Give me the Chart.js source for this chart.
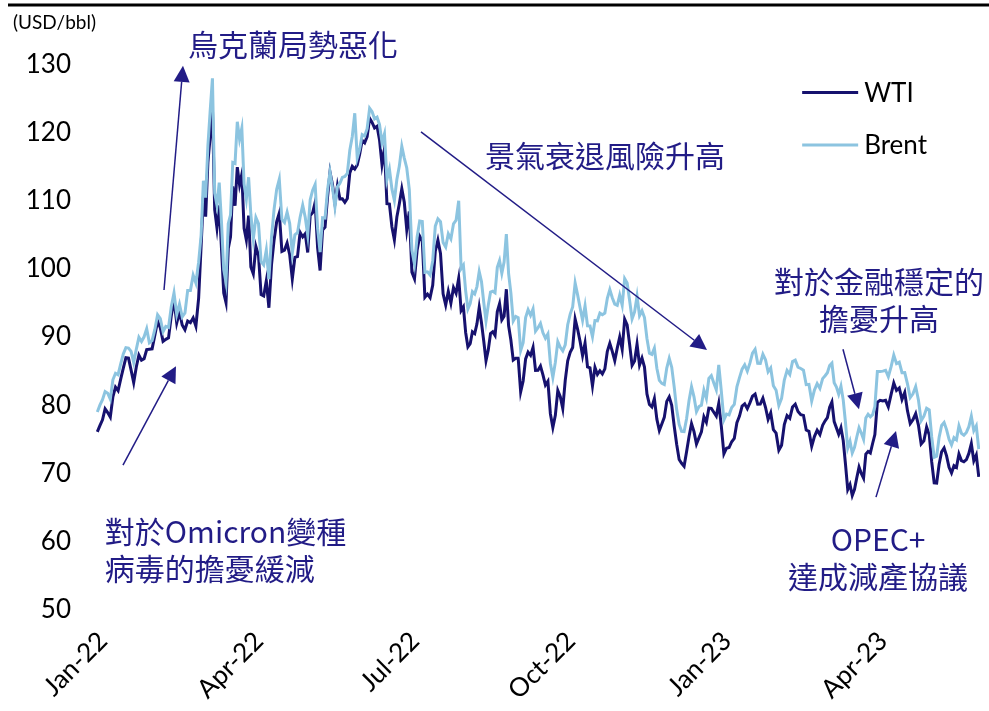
<!DOCTYPE html>
<html>
<head>
<meta charset="utf-8">
<script src="https://cdn.jsdelivr.net/npm/chart.js@4"></script>
<style>
  html, body { margin: 0; padding: 0; background: #fff; }
  #wrap { width: 989px; height: 711px; }
</style>
</head>
<body>
<div id="wrap"><canvas id="oil" width="989" height="711"></canvas></div>
<script>
// Daily closes (USD/bbl), one row per month, Jan-22 .. May-23
const wti = [
  [76.08, 76.99, 77.85, 79.46, 78.90, 78.23, 81.22, 82.64, 82.12, 83.82, 85.43, 86.96, 86.90, 85.14, 83.31, 85.60, 87.35, 86.61, 86.82, 88.15],
  [88.20, 88.26, 90.27, 92.31, 91.32, 89.36, 89.66, 89.88, 93.10, 95.46, 92.07, 93.66, 91.76, 91.07, 92.35, 92.10, 92.81, 91.59, 95.72],
  [103.41, 110.60, 107.67, 115.68, 119.40, 123.70, 108.70, 106.02, 109.33, 103.01, 96.44, 95.04, 102.98, 104.70, 112.12, 109.27, 114.93, 112.34, 113.90, 105.96, 104.24, 107.82, 100.28],
  [99.27, 103.28, 101.96, 96.23, 96.03, 98.26, 94.29, 100.60, 104.25, 106.95, 108.21, 102.56, 102.75, 103.79, 102.07, 98.54, 101.70, 101.81, 105.36, 104.69],
  [105.17, 102.41, 107.81, 108.26, 109.77, 103.09, 99.76, 105.71, 106.13, 110.49, 114.20, 112.40, 109.59, 112.21, 110.28, 110.29, 109.77, 110.33, 114.09, 115.07, 114.67],
  [115.26, 116.87, 118.87, 118.50, 119.41, 122.11, 121.51, 120.67, 120.93, 118.93, 115.31, 117.59, 109.56, 109.52, 106.19, 104.27, 107.62, 109.57, 111.76, 109.78, 105.76],
  [108.43, 99.50, 98.53, 102.73, 104.79, 104.09, 95.84, 96.30, 95.78, 97.59, 102.60, 104.22, 102.26, 96.35, 94.70, 96.70, 94.98, 97.26, 96.42, 98.62],
  [93.89, 94.42, 90.66, 88.54, 89.01, 90.76, 90.50, 91.93, 94.34, 92.09, 89.41, 86.53, 88.11, 90.50, 90.77, 90.23, 93.74, 94.89, 92.52, 93.06, 97.01, 91.64, 89.55],
  [86.61, 86.87, 86.88, 81.94, 83.54, 86.79, 87.78, 87.31, 88.48, 85.10, 85.11, 85.73, 84.45, 82.94, 83.49, 78.74, 76.71, 78.50, 82.15, 81.23, 79.49],
  [83.63, 86.52, 87.76, 88.45, 92.64, 91.13, 89.35, 87.27, 89.11, 85.61, 85.46, 82.82, 85.55, 84.51, 85.05, 84.58, 85.32, 87.91, 89.08, 87.90, 86.53],
  [88.37, 90.00, 88.17, 92.61, 91.79, 88.91, 85.83, 86.47, 88.96, 85.87, 86.92, 85.59, 81.64, 80.08, 79.73, 80.95, 77.94, 76.28, 77.24, 78.20, 80.55],
  [81.22, 79.98, 76.93, 74.25, 72.01, 71.46, 71.02, 73.17, 75.39, 77.28, 76.11, 74.29, 75.19, 76.09, 78.29, 77.49, 79.56, 79.53, 78.96, 78.40, 80.26],
  [76.93, 72.84, 73.67, 73.77, 74.63, 75.12, 77.41, 78.39, 79.86, 80.18, 79.48, 80.33, 81.31, 81.62, 80.13, 80.15, 81.01, 79.68, 77.90, 78.87],
  [76.41, 75.88, 73.39, 74.11, 77.14, 78.47, 78.06, 79.72, 80.14, 79.06, 78.59, 78.49, 76.34, 76.16, 73.95, 75.39, 76.32, 75.68, 77.05],
  [77.69, 78.16, 79.68, 80.46, 77.58, 76.66, 75.72, 76.68, 74.80, 71.33, 67.61, 68.35, 66.74, 67.64, 69.33, 70.90, 69.96, 69.26, 72.81, 73.20, 72.97, 74.37, 75.67],
  [80.42, 80.71, 80.61, 80.70, 79.74, 81.53, 83.26, 82.16, 82.52, 80.83, 81.86, 79.16, 77.29, 77.87, 78.76, 77.07, 74.30, 74.76, 76.78],
  [75.66, 71.66, 68.60, 68.56, 71.34, 73.16, 73.71, 72.56, 70.87, 70.04, 71.11, 70.86, 72.83, 71.86, 71.69, 71.99, 72.91, 74.34, 71.83, 72.67, 69.46],
];

const brent = [
  [78.98, 80.00, 80.80, 81.99, 81.75, 80.87, 83.72, 84.67, 84.47, 86.06, 87.51, 88.44, 88.38, 87.89, 86.27, 88.20, 89.96, 89.34, 90.03, 91.21],
  [89.16, 89.47, 91.11, 93.27, 92.69, 90.78, 91.55, 91.41, 94.44, 96.48, 93.28, 94.81, 92.97, 93.54, 96.84, 96.84, 99.08, 97.93, 100.99],
  [104.97, 112.93, 110.46, 118.11, 123.21, 127.98, 111.14, 109.33, 112.67, 106.90, 99.91, 98.02, 106.64, 107.93, 115.62, 115.48, 121.60, 119.03, 120.65, 112.48, 110.23, 113.45, 107.91],
  [104.39, 107.53, 106.64, 101.07, 100.58, 102.78, 98.48, 104.64, 108.78, 111.70, 113.16, 107.25, 106.80, 108.33, 106.65, 102.32, 104.99, 105.32, 107.59, 109.34],
  [107.58, 104.97, 110.14, 111.55, 112.39, 105.94, 102.46, 107.51, 107.45, 111.55, 114.24, 111.93, 109.11, 112.04, 112.55, 113.42, 113.56, 114.03, 117.40, 119.43, 122.84],
  [116.29, 117.61, 119.72, 119.51, 120.57, 123.58, 123.07, 122.01, 122.27, 121.17, 118.51, 119.81, 113.12, 114.65, 111.74, 110.05, 113.12, 115.09, 117.98, 116.26, 114.81],
  [111.63, 102.77, 100.69, 104.65, 107.02, 106.95, 99.49, 99.57, 99.10, 101.16, 106.27, 107.35, 106.92, 103.86, 103.20, 105.15, 104.40, 106.62, 107.14, 110.01],
  [100.03, 100.54, 96.78, 94.12, 94.92, 96.65, 96.31, 97.40, 99.60, 98.15, 95.10, 92.34, 94.65, 96.59, 96.72, 96.48, 100.22, 101.22, 99.34, 100.99, 105.09, 99.31, 96.49],
  [92.36, 93.02, 92.83, 88.00, 89.15, 92.84, 94.00, 93.17, 94.10, 90.84, 91.35, 92.00, 90.62, 89.83, 90.46, 86.15, 84.06, 86.27, 89.32, 88.49, 87.96],
  [88.86, 91.80, 93.37, 94.42, 97.92, 96.19, 94.29, 92.45, 94.57, 91.63, 91.62, 90.03, 92.41, 92.38, 93.50, 93.26, 93.52, 95.69, 96.96, 95.77, 94.83],
  [94.65, 96.16, 94.67, 98.57, 97.92, 95.36, 92.65, 93.67, 95.99, 93.14, 93.86, 92.86, 89.78, 87.62, 87.45, 88.36, 85.41, 83.63, 83.19, 83.03, 85.43],
  [86.88, 85.57, 82.68, 79.35, 77.17, 76.15, 76.10, 77.99, 80.68, 82.70, 81.21, 79.04, 79.80, 79.99, 82.20, 80.98, 83.92, 84.33, 83.26, 82.26, 85.91],
  [82.10, 77.84, 78.69, 78.57, 79.65, 80.10, 82.67, 84.03, 85.28, 85.92, 84.98, 86.16, 87.63, 88.19, 86.13, 86.12, 87.47, 86.66, 84.90, 85.46],
  [82.84, 82.17, 79.94, 80.99, 83.69, 85.09, 84.50, 86.39, 86.61, 85.58, 85.38, 85.14, 83.00, 83.05, 80.60, 82.21, 83.16, 82.45, 83.89],
  [84.31, 84.75, 85.83, 86.18, 83.29, 82.66, 81.59, 82.78, 80.77, 77.45, 73.69, 74.70, 72.97, 73.79, 75.32, 76.69, 75.91, 74.99, 78.12, 78.65, 78.28, 78.60, 79.77],
  [84.93, 84.94, 84.99, 85.12, 84.18, 85.61, 87.33, 86.09, 86.31, 84.76, 84.77, 83.12, 81.10, 81.66, 82.73, 80.77, 77.69, 78.37, 79.54],
  [79.31, 75.32, 72.33, 72.50, 75.30, 77.01, 77.44, 76.41, 74.98, 74.17, 75.23, 74.91, 76.96, 75.86, 75.58, 75.99, 76.84, 78.36, 76.26, 76.95, 73.54],
];

// quarter ticks, in months since Jan-22
const tickMonths = [0, 3, 6, 9, 12, 15];
const tickLabels = ["Jan-22", "Apr-22", "Jul-22", "Oct-22", "Jan-23", "Apr-23"];

const COLORS = {
  wti: "#16116e",
  brent: "#8cc4e0",
  note: "#221c86",
  text: "#000000",
};

const LATIN = "Lato, 'Open Sans', sans-serif";
const CJK = "'Noto Sans CJK TC', 'Noto Sans CJK SC', sans-serif";

// callouts: x in months, y in USD/bbl
const notes = [
  { lines: ["烏克蘭局勢惡化"], at: [1.77, 132.9], align: "left" },
  { lines: ["景氣衰退風險升高"], at: [7.48, 116.7], align: "left" },
  { lines: ["對於金融穩定的", "擔憂升高"], at: [15.06, 98.2], align: "center" },
  { lines: ["OPEC+", "達成減產協議"], at: [15.04, 60.2], align: "center" },
  { lines: ["對於Omicron變種", "病毒的擔憂緩減"], at: [0.17, 61.4], align: "left" },
];

const arrows = [
  { from: [1.308, 96.9], to: [1.673, 129.8] },
  { from: [6.25, 120.1], to: [11.75, 88.1] },
  { from: [14.365, 88.2], to: [14.673, 79.4] },
  { from: [15.0, 66.5], to: [15.385, 76.2] },
  { from: [0.519, 71.2], to: [1.538, 85.7] },
];

// legend rows sit inside the plot, top right
const legendAt = { x: 13.58, y: [125.9, 118.2] };

// spread each month's trading days evenly across that month
function toPoints(byMonth) {
  return byMonth.flatMap((vals, m) =>
    vals.map((v, i) => ({ x: m + (i + 0.5) / vals.length, y: v }))
  );
}

const decorations = {
  id: "decorations",
  afterDraw(chart) {
    const { ctx, scales } = chart;
    const px = (t) => scales.x.getPixelForValue(t);
    const py = (v) => scales.y.getPixelForValue(v);
    ctx.save();

    // heavy rule along the top
    ctx.strokeStyle = "#000";
    ctx.lineWidth = 3;
    ctx.beginPath();
    ctx.moveTo(8, 5);
    ctx.lineTo(chart.width, 5);
    ctx.stroke();

    // unit label
    ctx.fillStyle = COLORS.text;
    ctx.font = `19px ${LATIN}`;
    ctx.textAlign = "left";
    ctx.textBaseline = "middle";
    ctx.fillText("(USD/bbl)", 13, 23);

    // legend
    const legendX = px(legendAt.x);
    chart.data.datasets.forEach((ds, i) => {
      const y = py(legendAt.y[i]);
      ctx.strokeStyle = ds.borderColor;
      ctx.lineWidth = 3;
      ctx.beginPath();
      ctx.moveTo(legendX, y);
      ctx.lineTo(legendX + 56, y);
      ctx.stroke();
      ctx.fillStyle = COLORS.text;
      ctx.font = `26px ${LATIN}`;
      ctx.textBaseline = "middle";
      ctx.fillText(ds.label, legendX + 62, y + 1);
    });

    // arrows
    ctx.strokeStyle = COLORS.note;
    ctx.fillStyle = COLORS.note;
    arrows.forEach((a) => {
      const x0 = px(a.from[0]), y0 = py(a.from[1]);
      const x1 = px(a.to[0]), y1 = py(a.to[1]);
      const ang = Math.atan2(y1 - y0, x1 - x0);
      const len = 16, half = 8;
      const bx = x1 - len * Math.cos(ang), by = y1 - len * Math.sin(ang);
      ctx.lineWidth = 1.5;
      ctx.beginPath();
      ctx.moveTo(x0, y0);
      ctx.lineTo(bx, by);
      ctx.stroke();
      ctx.beginPath();
      ctx.moveTo(x1, y1);
      ctx.lineTo(bx + half * Math.sin(ang), by - half * Math.cos(ang));
      ctx.lineTo(bx - half * Math.sin(ang), by + half * Math.cos(ang));
      ctx.closePath();
      ctx.fill();
    });

    // callout text
    ctx.font = `30px ${CJK}`;
    ctx.textBaseline = "middle";
    notes.forEach((n) => {
      ctx.textAlign = n.align;
      n.lines.forEach((line, i) => {
        ctx.fillText(line, px(n.at[0]), py(n.at[1]) + i * 37);
      });
    });

    ctx.restore();
  },
};

new Chart(document.getElementById("oil"), {
  type: "line",
  data: {
    datasets: [
      {
        label: "WTI",
        data: toPoints(wti),
        borderColor: COLORS.wti,
        borderWidth: 3,
        pointRadius: 0,
        tension: 0,
        order: 1,
      },
      {
        label: "Brent",
        data: toPoints(brent),
        borderColor: COLORS.brent,
        borderWidth: 3,
        pointRadius: 0,
        tension: 0,
        order: 0,
      },
    ],
  },
  options: {
    responsive: false,
    animation: false,
    layout: { padding: { top: 64.5, right: 9, bottom: 0, left: 0 } },
    plugins: {
      legend: { display: false },
      tooltip: { enabled: false },
    },
    scales: {
      x: {
        type: "linear",
        min: 0,
        max: 17,
        afterBuildTicks(scale) {
          scale.ticks = tickMonths.map((v) => ({ value: v }));
        },
        afterFit(scale) {
          scale.height = 101.5;
        },
        ticks: {
          autoSkip: false,
          minRotation: 45,
          maxRotation: 45,
          padding: 16,
          labelOffset: 7,
          color: COLORS.text,
          font: { family: LATIN, size: 26 },
          callback: (v) => tickLabels[tickMonths.indexOf(v)],
        },
        grid: { display: false, drawTicks: false },
        border: { display: false },
      },
      y: {
        min: 50,
        max: 130,
        afterFit(scale) {
          scale.width = 96;
        },
        ticks: {
          stepSize: 10,
          padding: 25,
          color: COLORS.text,
          font: { family: LATIN, size: 26 },
        },
        grid: { display: false, drawTicks: false },
        border: { display: false },
      },
    },
  },
  plugins: [decorations],
});
</script>
</body>
</html>
